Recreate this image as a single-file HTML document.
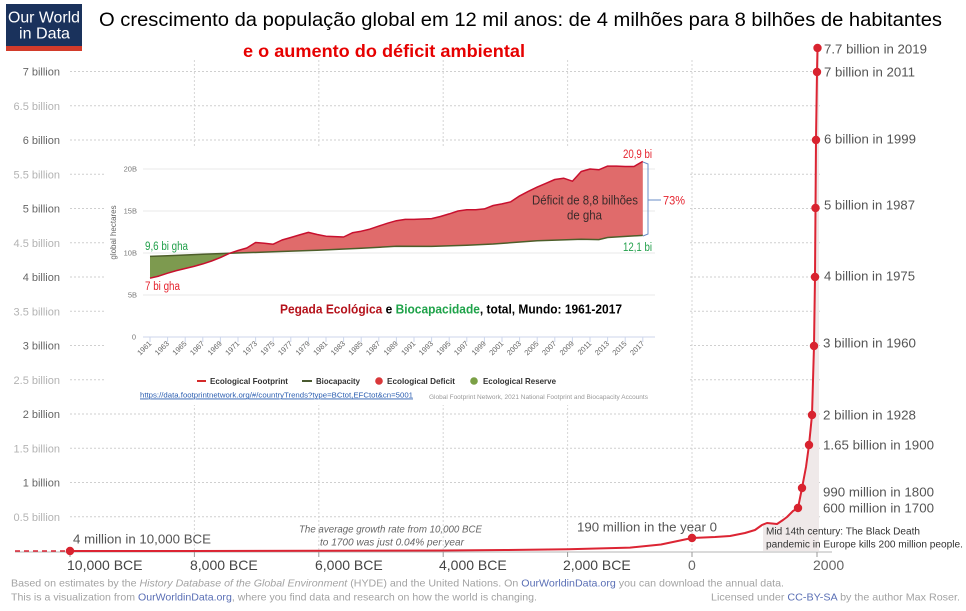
<!DOCTYPE html>
<html>
<head>
<meta charset="utf-8">
<style>
html,body{margin:0;padding:0;background:#fff;}
svg{display:block;}
text{font-family:"Liberation Sans",Arial,sans-serif;}
</style>
</head>
<body>
<svg width="966" height="611" viewBox="0 0 966 611" xmlns="http://www.w3.org/2000/svg">
<rect x="0" y="0" width="966" height="611" fill="#fff"/>

<!-- horizontal grid -->
<g stroke="#cfcfcf" stroke-width="1" stroke-dasharray="2,2">
<line x1="70" y1="71.5" x2="822" y2="71.5"/>
<line x1="70" y1="105.75" x2="822" y2="105.75"/>
<line x1="70" y1="140" x2="822" y2="140"/>
<line x1="70" y1="174.25" x2="822" y2="174.25"/>
<line x1="70" y1="208.5" x2="822" y2="208.5"/>
<line x1="70" y1="242.75" x2="822" y2="242.75"/>
<line x1="70" y1="277" x2="822" y2="277"/>
<line x1="70" y1="311.25" x2="822" y2="311.25"/>
<line x1="70" y1="345.5" x2="822" y2="345.5"/>
<line x1="70" y1="379.75" x2="822" y2="379.75"/>
<line x1="70" y1="414" x2="822" y2="414"/>
<line x1="70" y1="448.25" x2="822" y2="448.25"/>
<line x1="70" y1="482.5" x2="822" y2="482.5"/>
<line x1="70" y1="516.75" x2="822" y2="516.75"/>
</g>
<!-- vertical grid -->
<g stroke="#d6d6d6" stroke-width="1" stroke-dasharray="2,2">
<line x1="194.4" y1="60" x2="194.4" y2="551"/>
<line x1="318.8" y1="60" x2="318.8" y2="551"/>
<line x1="443.2" y1="60" x2="443.2" y2="551"/>
<line x1="567.6" y1="60" x2="567.6" y2="551"/>
<line x1="692" y1="60" x2="692" y2="551"/>
</g>

<!-- y labels -->
<g font-size="11" text-anchor="end">
<text x="60" y="75.5" fill="#666">7 billion</text>
<text x="60" y="109.8" fill="#b3b3b3">6.5 billion</text>
<text x="60" y="144" fill="#666">6 billion</text>
<text x="60" y="178.3" fill="#b3b3b3">5.5 billion</text>
<text x="60" y="212.5" fill="#666">5 billion</text>
<text x="60" y="246.8" fill="#b3b3b3">4.5 billion</text>
<text x="60" y="281" fill="#666">4 billion</text>
<text x="60" y="315.3" fill="#b3b3b3">3.5 billion</text>
<text x="60" y="349.5" fill="#666">3 billion</text>
<text x="60" y="383.8" fill="#b3b3b3">2.5 billion</text>
<text x="60" y="418" fill="#666">2 billion</text>
<text x="60" y="452.3" fill="#b3b3b3">1.5 billion</text>
<text x="60" y="486.5" fill="#666">1 billion</text>
<text x="60" y="520.8" fill="#b3b3b3">0.5 billion</text>
</g>

<!-- shaded area under curve -->
<polygon fill="#efe9e9" points="763,551 763,524.6 767,523 772,523.5 777,524 783,520 787,517 793,511 798,508 802,488 806,467 809,445 812,415 814,346 815,277 815.5,208 816,140 817,72 817.5,48 819,48 819,551"/>

<!-- axis -->
<line x1="15" y1="552" x2="832" y2="552" stroke="#b5b5b5" stroke-width="1"/>
<g stroke="#999" stroke-width="1">
<line x1="70" y1="552" x2="70" y2="557"/>
<line x1="194.4" y1="552" x2="194.4" y2="557"/>
<line x1="318.8" y1="552" x2="318.8" y2="557"/>
<line x1="443.2" y1="552" x2="443.2" y2="557"/>
<line x1="567.6" y1="552" x2="567.6" y2="557"/>
<line x1="692" y1="552" x2="692" y2="557"/>
<line x1="817" y1="552" x2="817" y2="557"/>
</g>

<!-- x labels -->
<g font-size="14" fill="#444">
<text x="67" y="570">10,000 BCE</text>
<text x="190" y="570">8,000 BCE</text>
<text x="315" y="570">6,000 BCE</text>
<text x="439" y="570">4,000 BCE</text>
<text x="563" y="570">2,000 BCE</text>
<text x="688" y="570" fill="#666">0</text>
<text x="813" y="570" fill="#666">2000</text>
</g>

<!-- red curve -->
<line x1="15" y1="551" x2="67" y2="551" stroke="#dc2433" stroke-width="1.6" stroke-dasharray="5,4"/>
<polyline fill="none" stroke="#dc2433" stroke-width="2" stroke-linejoin="round" points="70,551 194,551 319,550.8 443,550.5 505,550 568,549.2 630,547.6 661,544.5 692,538 715,537 730,536 745,533 755,530 762,525 767,523 772,523.5 777,524 783,520 787,517 793,511 798,508 802,488 806,467 809,445 812,415 814,346 815,277 815.5,208 816,140 817,72 817.5,48"/>
<g fill="#d8232f">
<circle cx="70" cy="551" r="4.2"/>
<circle cx="692" cy="538" r="4.2"/>
<circle cx="798" cy="508" r="4.2"/>
<circle cx="802" cy="488" r="4.2"/>
<circle cx="809" cy="445" r="4.2"/>
<circle cx="812" cy="415" r="4.2"/>
<circle cx="814" cy="346" r="4.2"/>
<circle cx="815" cy="277" r="4.2"/>
<circle cx="815.5" cy="208" r="4.2"/>
<circle cx="816" cy="140" r="4.2"/>
<circle cx="817" cy="72" r="4.2"/>
<circle cx="817.5" cy="48" r="4.2"/>
</g>

<!-- right annotations -->
<g font-size="13" fill="#555">
<text x="824" y="53.5" textLength="103" lengthAdjust="spacingAndGlyphs">7.7 billion in 2019</text>
<text x="824" y="76.3" textLength="91" lengthAdjust="spacingAndGlyphs">7 billion in 2011</text>
<text x="824" y="143.6" textLength="92" lengthAdjust="spacingAndGlyphs">6 billion in 1999</text>
<text x="824" y="209.6" textLength="91" lengthAdjust="spacingAndGlyphs">5 billion in 1987</text>
<text x="824" y="280.3" textLength="91" lengthAdjust="spacingAndGlyphs">4 billion in 1975</text>
<text x="823" y="347.6" textLength="93" lengthAdjust="spacingAndGlyphs">3 billion in 1960</text>
<text x="823" y="419.6" textLength="93" lengthAdjust="spacingAndGlyphs">2 billion in 1928</text>
<text x="823" y="449.6" textLength="111" lengthAdjust="spacingAndGlyphs">1.65 billion in 1900</text>
<text x="823" y="496.3" textLength="111" lengthAdjust="spacingAndGlyphs">990 million in 1800</text>
<text x="823" y="512.6" textLength="111" lengthAdjust="spacingAndGlyphs">600 million in 1700</text>
<text x="577" y="531.6" textLength="140" lengthAdjust="spacingAndGlyphs">190 million in the year 0</text>
<text x="73" y="543.6" textLength="138" lengthAdjust="spacingAndGlyphs">4 million in 10,000 BCE</text>
</g>
<g font-size="10" font-style="italic" fill="#666">
<text x="299" y="532.5" textLength="183" lengthAdjust="spacingAndGlyphs">The average growth rate from 10,000 BCE</text>
<text x="320" y="545.5" textLength="144" lengthAdjust="spacingAndGlyphs">to 1700 was just  0.04% per year</text>
</g>
<g font-size="10" fill="#333">
<text x="766" y="534.5" textLength="154" lengthAdjust="spacingAndGlyphs">Mid 14th century: The Black Death</text>
<text x="766" y="547.5" textLength="197" lengthAdjust="spacingAndGlyphs">pandemic in Europe kills 200 million people.</text>
</g>

<!-- footer -->
<g font-size="10.5" fill="#a3a3a3">
<text x="11" y="586.5" textLength="773" lengthAdjust="spacingAndGlyphs">Based on estimates by the <tspan font-style="italic">History Database of the Global Environment</tspan> (HYDE) and the United Nations. On <tspan fill="#5a6fb5">OurWorldinData.org</tspan> you can download the annual data.</text>
<text x="11" y="600.5" textLength="526" lengthAdjust="spacingAndGlyphs">This is a visualization from <tspan fill="#5a6fb5">OurWorldinData.org</tspan>, where you find data and research on how the world is changing.</text>
<text x="711" y="600.5" textLength="249" lengthAdjust="spacingAndGlyphs">Licensed under <tspan fill="#5a6fb5">CC-BY-SA</tspan> by the author Max Roser.</text>
</g>

<!-- logo -->
<rect x="6" y="4" width="76" height="47" fill="#1a325c"/>
<rect x="6" y="46" width="76" height="5" fill="#d23b2a"/>
<text x="8" y="22.7" font-size="16" fill="#fff" textLength="72" lengthAdjust="spacingAndGlyphs">Our World</text>
<text x="19" y="38.3" font-size="16" fill="#fff" textLength="51" lengthAdjust="spacingAndGlyphs">in Data</text>

<!-- title -->
<text x="99" y="26" font-size="19.5" fill="#000" textLength="843" lengthAdjust="spacingAndGlyphs">O crescimento da população global em 12 mil anos: de 4 milhões para 8 bilhões de habitantes</text>
<text x="243" y="57" font-size="17.5" font-weight="bold" fill="#e60000" textLength="282" lengthAdjust="spacingAndGlyphs">e o aumento do déficit ambiental</text>

<!-- ================= INSET ================= -->
<rect x="104" y="148" width="584" height="257" fill="#fff"/>
<g stroke="#e8e8e8" stroke-width="1">
<line x1="143" y1="169" x2="655" y2="169"/>
<line x1="143" y1="211" x2="655" y2="211"/>
<line x1="143" y1="253" x2="655" y2="253"/>
<line x1="143" y1="295" x2="655" y2="295"/>
</g>
<line x1="143" y1="337" x2="655" y2="337" stroke="#ccd6eb" stroke-width="1"/>
<g font-size="7.5" fill="#777" text-anchor="end">
<text x="137" y="171.5">20B</text>
<text x="137" y="213.5">15B</text>
<text x="137" y="255.5">10B</text>
<text x="137" y="297.5">5B</text>
<text x="136" y="339.5">0</text>
</g>
<text transform="translate(116,232.5) rotate(-90)" font-size="8" fill="#666" text-anchor="middle">global hectares</text>

<!-- fills -->
<polygon fill="#7d9a4f" points="150,278.2 158.8,276.1 167.6,273.2 176.4,270.6 185.2,268.5 194,266.4 202.8,263.9 211.6,261.0 220.4,257.6 229.4,253.3 202.8,254.3 185.2,255.0 167.6,255.7 150,256.4"/>
<polygon fill="#e06b6b" points="229.4,253.3 238,250.5 246.8,248.0 255.6,242.5 264.4,243.3 273.2,244.2 282,240.0 290.8,237.5 299.6,234.9 308.4,232.4 317.2,234.5 326,236.2 334.8,236.6 343.6,237.0 352.4,232.8 361.2,231.2 370,229.1 378.8,226.1 387.6,223.2 396.4,220.7 405.2,219.4 414,219.4 422.8,219.0 431.6,218.6 440.4,216.5 449.2,213.9 458,211.0 466.8,209.7 475.6,209.7 484.4,208.9 493.2,205.5 502,203.9 510.8,201.8 519.6,195.9 528.4,191.3 537.2,187.1 546,183.3 554.8,179.5 563.6,178.2 572.4,181.2 581.2,171.5 590,169.0 598.8,169.8 607.6,166.1 616.4,166.1 625.2,166.5 634,166.5 642.8,161.4 642.8,235.4 607.6,237.5 598.8,239.6 581.2,239.3 537.2,240.8 493.2,244.0 466.8,245.3 431.6,246.4 396.4,246.3 361.2,248.3 317.2,250.3 273.2,251.8 229.4,253.3"/>
<!-- lines -->
<polyline fill="none" stroke="#4d5e2a" stroke-width="1.5" points="150,256.4 167.6,255.7 185.2,255.0 202.8,254.3 229.2,253.3 273.2,251.8 317.2,250.3 361.2,248.3 396.4,246.3 431.6,246.4 466.8,245.3 493.2,244.0 537.2,240.8 581.2,239.3 598.8,239.6 607.6,237.5 642.8,235.4"/>
<polyline fill="none" stroke="#c8102e" stroke-width="1.5" stroke-linejoin="round" points="150,278.2 158.8,276.1 167.6,273.2 176.4,270.6 185.2,268.5 194,266.4 202.8,263.9 211.6,261.0 220.4,257.6 229.2,253.4 238,250.5 246.8,248.0 255.6,242.5 264.4,243.3 273.2,244.2 282,240.0 290.8,237.5 299.6,234.9 308.4,232.4 317.2,234.5 326,236.2 334.8,236.6 343.6,237.0 352.4,232.8 361.2,231.2 370,229.1 378.8,226.1 387.6,223.2 396.4,220.7 405.2,219.4 414,219.4 422.8,219.0 431.6,218.6 440.4,216.5 449.2,213.9 458,211.0 466.8,209.7 475.6,209.7 484.4,208.9 493.2,205.5 502,203.9 510.8,201.8 519.6,195.9 528.4,191.3 537.2,187.1 546,183.3 554.8,179.5 563.6,178.2 572.4,181.2 581.2,171.5 590,169.0 598.8,169.8 607.6,166.1 616.4,166.1 625.2,166.5 634,166.5 642.8,161.4"/>

<!-- x ticks + year labels -->
<g stroke="#ccd6eb" stroke-width="1">
<line x1="150" y1="337" x2="150" y2="342"/><line x1="167.6" y1="337" x2="167.6" y2="342"/><line x1="185.2" y1="337" x2="185.2" y2="342"/><line x1="202.8" y1="337" x2="202.8" y2="342"/><line x1="220.4" y1="337" x2="220.4" y2="342"/><line x1="238" y1="337" x2="238" y2="342"/><line x1="255.6" y1="337" x2="255.6" y2="342"/><line x1="273.2" y1="337" x2="273.2" y2="342"/><line x1="290.8" y1="337" x2="290.8" y2="342"/><line x1="308.4" y1="337" x2="308.4" y2="342"/><line x1="326" y1="337" x2="326" y2="342"/><line x1="343.6" y1="337" x2="343.6" y2="342"/><line x1="361.2" y1="337" x2="361.2" y2="342"/><line x1="378.8" y1="337" x2="378.8" y2="342"/><line x1="396.4" y1="337" x2="396.4" y2="342"/><line x1="414" y1="337" x2="414" y2="342"/><line x1="431.6" y1="337" x2="431.6" y2="342"/><line x1="449.2" y1="337" x2="449.2" y2="342"/><line x1="466.8" y1="337" x2="466.8" y2="342"/><line x1="484.4" y1="337" x2="484.4" y2="342"/><line x1="502" y1="337" x2="502" y2="342"/><line x1="519.6" y1="337" x2="519.6" y2="342"/><line x1="537.2" y1="337" x2="537.2" y2="342"/><line x1="554.8" y1="337" x2="554.8" y2="342"/><line x1="572.4" y1="337" x2="572.4" y2="342"/><line x1="590" y1="337" x2="590" y2="342"/><line x1="607.6" y1="337" x2="607.6" y2="342"/><line x1="625.2" y1="337" x2="625.2" y2="342"/><line x1="642.8" y1="337" x2="642.8" y2="342"/>
</g>
<g font-size="7.5" fill="#666" text-anchor="end">
<text transform="translate(152,344) rotate(-45)">1961</text>
<text transform="translate(169.6,344) rotate(-45)">1963</text>
<text transform="translate(187.2,344) rotate(-45)">1965</text>
<text transform="translate(204.8,344) rotate(-45)">1967</text>
<text transform="translate(222.4,344) rotate(-45)">1969</text>
<text transform="translate(240,344) rotate(-45)">1971</text>
<text transform="translate(257.6,344) rotate(-45)">1973</text>
<text transform="translate(275.2,344) rotate(-45)">1975</text>
<text transform="translate(292.8,344) rotate(-45)">1977</text>
<text transform="translate(310.4,344) rotate(-45)">1979</text>
<text transform="translate(328,344) rotate(-45)">1981</text>
<text transform="translate(345.6,344) rotate(-45)">1983</text>
<text transform="translate(363.2,344) rotate(-45)">1985</text>
<text transform="translate(380.8,344) rotate(-45)">1987</text>
<text transform="translate(398.4,344) rotate(-45)">1989</text>
<text transform="translate(416,344) rotate(-45)">1991</text>
<text transform="translate(433.6,344) rotate(-45)">1993</text>
<text transform="translate(451.2,344) rotate(-45)">1995</text>
<text transform="translate(468.8,344) rotate(-45)">1997</text>
<text transform="translate(486.4,344) rotate(-45)">1999</text>
<text transform="translate(504,344) rotate(-45)">2001</text>
<text transform="translate(521.6,344) rotate(-45)">2003</text>
<text transform="translate(539.2,344) rotate(-45)">2005</text>
<text transform="translate(556.8,344) rotate(-45)">2007</text>
<text transform="translate(574.4,344) rotate(-45)">2009</text>
<text transform="translate(592,344) rotate(-45)">2011</text>
<text transform="translate(609.6,344) rotate(-45)">2013</text>
<text transform="translate(627.2,344) rotate(-45)">2015</text>
<text transform="translate(644.8,344) rotate(-45)">2017</text>
</g>

<!-- inset annotations -->
<text x="145" y="250" font-size="11.5" fill="#22a04b" textLength="43" lengthAdjust="spacingAndGlyphs">9,6 bi gha</text>
<text x="145" y="290" font-size="11.5" fill="#e5232e" textLength="35" lengthAdjust="spacingAndGlyphs">7 bi gha</text>
<text x="623" y="158" font-size="11.5" fill="#e5232e" textLength="29" lengthAdjust="spacingAndGlyphs">20,9 bi</text>
<text x="623" y="251" font-size="11.5" fill="#22a04b" textLength="29" lengthAdjust="spacingAndGlyphs">12,1 bi</text>
<text x="663" y="204.5" font-size="12" fill="#e5232e" textLength="22" lengthAdjust="spacingAndGlyphs">73%</text>
<text x="532" y="204.5" font-size="12.5" fill="#3b2b2b" textLength="106" lengthAdjust="spacingAndGlyphs">Déficit de 8,8 bilhões</text>
<text x="567" y="219.5" font-size="12.5" fill="#3b2b2b" textLength="35" lengthAdjust="spacingAndGlyphs">de gha</text>
<path d="M643,162 L648,164 L648,234 L643,236 M648,200 L661,200" fill="none" stroke="#6a8cc7" stroke-width="1"/>

<text x="280" y="313.5" font-size="13" font-weight="bold" textLength="342" lengthAdjust="spacingAndGlyphs"><tspan fill="#b5121b">Pegada Ecológica</tspan><tspan fill="#000"> e </tspan><tspan fill="#1fa34a">Biocapacidade</tspan><tspan fill="#000">, total, Mundo: 1961-2017</tspan></text>

<!-- legend -->
<line x1="197" y1="381" x2="206" y2="381" stroke="#d42a2a" stroke-width="2"/>
<text x="210" y="384" font-size="8.5" font-weight="bold" fill="#333" textLength="78" lengthAdjust="spacingAndGlyphs">Ecological Footprint</text>
<line x1="302" y1="381" x2="312" y2="381" stroke="#4a5a30" stroke-width="2"/>
<text x="316" y="384" font-size="8.5" font-weight="bold" fill="#333" textLength="44" lengthAdjust="spacingAndGlyphs">Biocapacity</text>
<circle cx="379" cy="381" r="3.8" fill="#d9383a"/>
<text x="387" y="384" font-size="8.5" font-weight="bold" fill="#333" textLength="68" lengthAdjust="spacingAndGlyphs">Ecological Deficit</text>
<circle cx="474" cy="381" r="3.8" fill="#7ba046"/>
<text x="483" y="384" font-size="8.5" font-weight="bold" fill="#333" textLength="73" lengthAdjust="spacingAndGlyphs">Ecological Reserve</text>
<text x="140" y="397.5" font-size="7.5" fill="#2a5db0" text-decoration="underline" textLength="273" lengthAdjust="spacingAndGlyphs">https://data.footprintnetwork.org/#/countryTrends?type=BCtot,EFCtot&amp;cn=5001</text>
<line x1="140" y1="399" x2="413" y2="399" stroke="#2a5db0" stroke-width="0.6"/>
<text x="429" y="399" font-size="6" fill="#999" textLength="219" lengthAdjust="spacingAndGlyphs">Global Footprint Network, 2021 National Footprint and Biocapacity Accounts</text>
</svg>
</body>
</html>
